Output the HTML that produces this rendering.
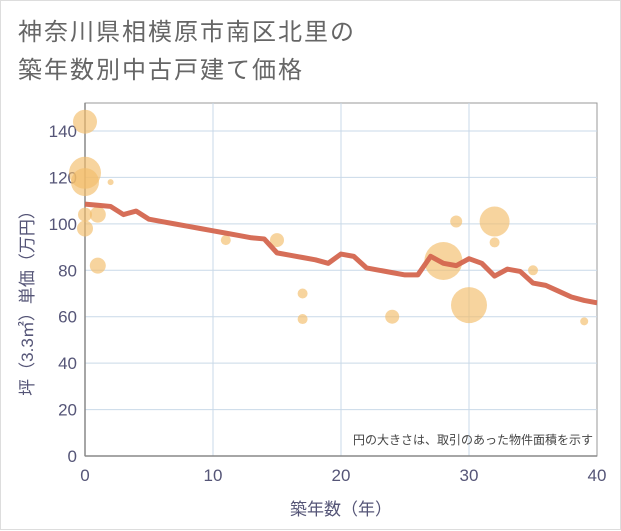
<!DOCTYPE html>
<html><head><meta charset="utf-8"><style>
body{margin:0;background:#fff;}
#c{position:relative;width:621px;height:530px;box-sizing:border-box;border:1px solid #ddd;background:#fff;font-family:"Liberation Sans","Noto Sans CJK JP",sans-serif;}
.t{position:absolute;left:17px;font-size:24px;color:#666;letter-spacing:2px;line-height:1;}
</style></head><body>
<div id="c">
<div class="t" style="top:20px">神奈川県相模原市南区北里の</div>
<div class="t" style="top:58px">築年数別中古戸建て価格</div>
<svg id="s" width="621" height="530" style="position:absolute;left:0;top:0"></svg>
</div>
<script>
const xTicks=[0,10,20,30,40];
const yTicks=[0,20,40,60,80,100,120,140];
const lineYears=[0,1,2,3,4,5,6,7,8,9,10,11,12,13,14,15,16,17,18,19,20,21,22,23,24,25,26,27,28,29,30,31,32,33,34,35,36,37,38,39,40];
const linePrices=[108.5,108,107.5,104,105.5,102,101,100,99,98,97,96,95,94,93.5,87.5,86.5,85.5,84.5,83,87,86,81,80,79,78,78,86,83,82,85,83,77.5,80.5,79.5,74.5,73.5,71,68.5,67,66];
const bubbleYears=[0,0,0,0,0,1,1,2,11,15,17,17,24,28,29,30,32,32,35,39];
const bubblePrices=[144,122,118,104,98,104,82,118,93,93,70,59,60,84,101,65,101,92,80,58];
const bubbleSizes=[12,16,14,7,8,8,8,3,5,7,5,5,7,19,6,18,15,5,5,4];
const NS="http://www.w3.org/2000/svg";
const svg=document.getElementById('s');
const X0=84,X1=596,Y0=455,Y1=130,XMAX=40,YMAX=140,TOP=102;
const sx=v=>X0+(X1-X0)*v/XMAX;
const sy=v=>Y0-(Y0-Y1)*v/YMAX;
function mk(t,a){const e=document.createElementNS(NS,t);for(const k in a)e.setAttribute(k,a[k]);svg.appendChild(e);return e;}
const bg=mk('rect',{x:X0,y:TOP,width:X1-X0,height:Y0-TOP,fill:'#fff',stroke:'#999','stroke-width':1});


yTicks.forEach(v=>{
 if(v>0){const g=mk('line',{x1:X0,x2:X1,y1:sy(v),y2:sy(v),stroke:'#c9d9e8','stroke-width':1});
 
 }
 const t=mk('text',{x:X0-8,y:sy(v)+6,'text-anchor':'end','font-size':17,fill:'#557'});t.textContent=v;
 
 
});
xTicks.forEach(v=>{
 if(v>0&&v<40){const g=mk('line',{x1:sx(v),x2:sx(v),y1:TOP,y2:Y0,stroke:'#c9d9e8','stroke-width':1});
 
 }
 const t=mk('text',{x:sx(v),y:Y0+25,'text-anchor':'middle','font-size':17,fill:'#557'});t.textContent=v;
 
 
});
const ax=mk('line',{x1:X0,x2:X0,y1:TOP,y2:Y0,stroke:'#888','stroke-width':1.5});


const ax2=mk('line',{x1:X0,x2:X1,y1:Y0,y2:Y0,stroke:'#888','stroke-width':1.5});


bubbleYears.forEach((v,i)=>{
 const c=mk('circle',{cx:sx(v),cy:sy(bubblePrices[i]),r:bubbleSizes[i],fill:'#f3bd6a','fill-opacity':0.65});
 
 
});
const pts=lineYears.map((v,i)=>sx(v)+','+sy(linePrices[i])).join(' ');
const pl=mk('polyline',{points:pts,fill:'none',stroke:'#d4664f','stroke-width':5,'stroke-linejoin':'round','stroke-opacity':0.95});


const n=mk('text',{x:592,y:443,'text-anchor':'end','font-size':12,fill:'#444'});n.textContent='円の大きさは、取引のあった物件面積を示す';


const xt=mk('text',{x:340,y:514,'text-anchor':'middle','font-size':17,fill:'#557'});xt.textContent='築年数（年）';


const yt=mk('text',{x:0,y:0,'text-anchor':'middle','font-size':17,fill:'#557',transform:'translate(32,298) rotate(-90)'});yt.textContent='坪（3.3㎡）単価（万円）';


</script>
</body></html>
